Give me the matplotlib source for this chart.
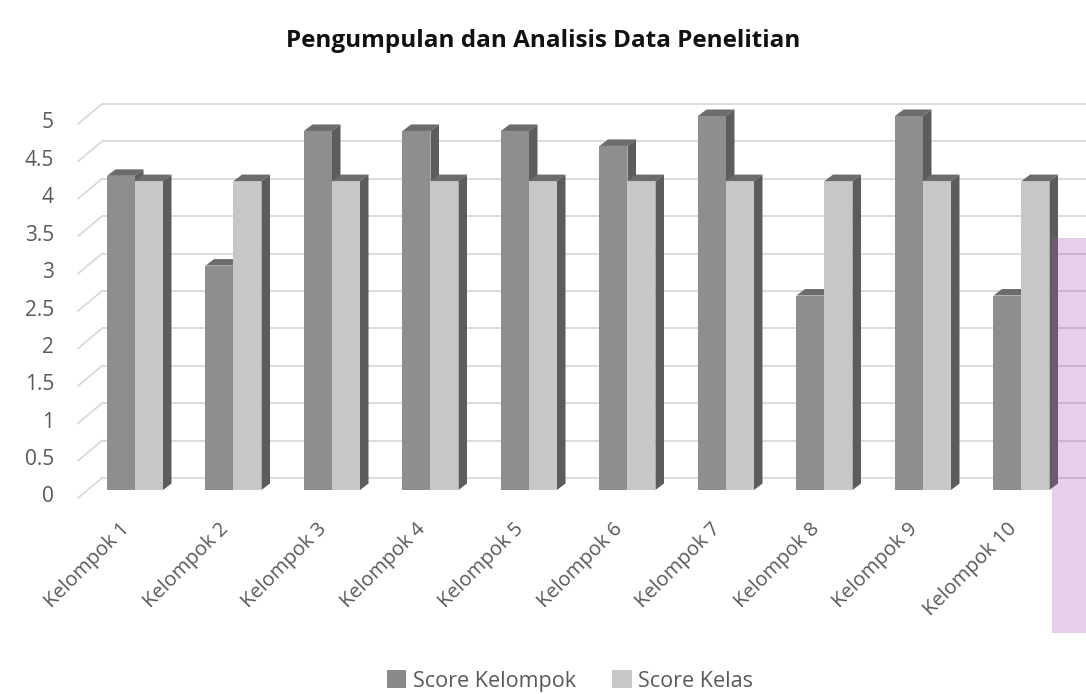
import matplotlib
matplotlib.use("Agg")
import matplotlib.pyplot as plt
from matplotlib.patches import Polygon, Rectangle, Patch

# ---- data ----
categories = ['Kelompok 1', 'Kelompok 2', 'Kelompok 3', 'Kelompok 4', 'Kelompok 5',
              'Kelompok 6', 'Kelompok 7', 'Kelompok 8', 'Kelompok 9', 'Kelompok 10']
score_kelompok = [4.2, 3.0, 4.8, 4.8, 4.8, 4.6, 5.0, 2.6, 5.0, 2.6]
score_kelas = [4.13, 4.13, 4.13, 4.13, 4.13, 4.13, 4.13, 4.13, 4.13, 4.13]
y_ticks = [0, 0.5, 1, 1.5, 2, 2.5, 3, 3.5, 4, 4.5, 5]
y_tick_labels = ['0', '0.5', '1', '1.5', '2', '2.5', '3', '3.5', '4', '4.5', '5']
series_names = ['Score Kelompok', 'Score Kelas']
title = 'Pengumpulan dan Analisis Data Penelitian'

# ---- layout helpers (pixel geometry of the figure) ----
W, H = 1086, 694
PX_PER_CAT = 98.5
PX_PER_UNIT = 74.8
X0_PX = 135.0
Y0_PX = 490.0

def X(px):
    return (px - X0_PX) / PX_PER_CAT

def V(py):
    return (Y0_PX - py) / PX_PER_UNIT

def ox(px):
    return px / PX_PER_CAT

def oy(px):
    return px / PX_PER_UNIT

fig = plt.figure(figsize=(W / 100, H / 100), dpi=100)
ax = fig.add_axes([0, 0, 1, 1])
ax.set_xlim(X(0), X(W))
ax.set_ylim(V(H), V(0))
ax.axis('off')

grid_c = '#d9d9d9'
txt_c = '#595959'

# back wall gridlines and floor diagonals
wall_front_x = X(78)
wall_back_x = X(102)
for v in y_ticks:
    ax.plot([wall_back_x, X(W) + 1], [v + oy(12)] * 2, color=grid_c, lw=1.3, zorder=1,
            solid_capstyle='butt')
    ax.plot([wall_front_x, wall_back_x], [v - oy(8), v + oy(12)], color=grid_c, lw=1.3,
            zorder=1)

for v, lab in zip(y_ticks, y_tick_labels):
    ax.text(X(54), v - oy(7), lab, ha='right', va='center', fontsize=15,
            color=txt_c, family='Open Sans')

# bars with 3D faces
w = 28 / PX_PER_CAT
ddx, ddy = ox(8.5), oy(6.5)
front_cols = ['#8e8e8e', '#c7c7c9']
top_col = '#6c6c6c'
side_col = '#5c5c5c'

xs = list(range(len(categories)))
for s, (vals, fc) in enumerate(zip([score_kelompok, score_kelas], front_cols)):
    z = 2 + s
    lefts = [x - w + s * w for x in xs]
    ax.bar([l + w / 2 for l in lefts], vals, width=w, color=fc, edgecolor='none',
           zorder=z)
    for l, v in zip(lefts, vals):
        r = l + w
        ax.add_patch(Polygon([(l, v), (r, v), (r + ddx, v + ddy), (l + ddx, v + ddy)],
                             closed=True, facecolor=top_col, edgecolor='none', zorder=z))
        ax.add_patch(Polygon([(r, 0), (r + ddx, ddy), (r + ddx, v + ddy), (r, v)],
                             closed=True, facecolor=side_col, edgecolor='none', zorder=z))

# category labels
for x, lab in zip(xs, categories):
    ax.text(x + ox(-8), V(526), lab, rotation=45, ha='right', va='center',
            rotation_mode='anchor', fontsize=14.5, color=txt_c, family='Open Sans')

# translucent pink overlay at right edge
ax.add_patch(Rectangle((X(1052), V(633)), X(W) - X(1052) + 0.2, V(238) - V(633),
                       facecolor=(163 / 255, 81 / 255, 170 / 255), alpha=0.27,
                       edgecolor='none', zorder=10))

# title
fig.text(0.5, 1 - 47 / H, title, ha='center', va='baseline', fontsize=17.5,
         fontweight='bold', color='#111111', family='Open Sans')

# legend
handles = [Patch(facecolor='#8a8a8a', edgecolor='none'),
           Patch(facecolor=front_cols[1], edgecolor='none')]
leg = fig.legend(handles, series_names, loc='center', bbox_to_anchor=(570 / W, 1 - 681 / H),
                 ncol=2, frameon=False, handlelength=0.9, handleheight=0.9,
                 handletextpad=0.3, columnspacing=1.7,
                 prop={'family': ['Liberation Sans Narrow', 'Open Sans'], 'size': 15.5})
for t in leg.get_texts():
    t.set_color(txt_c)

fig.savefig('out.png', dpi=100)
